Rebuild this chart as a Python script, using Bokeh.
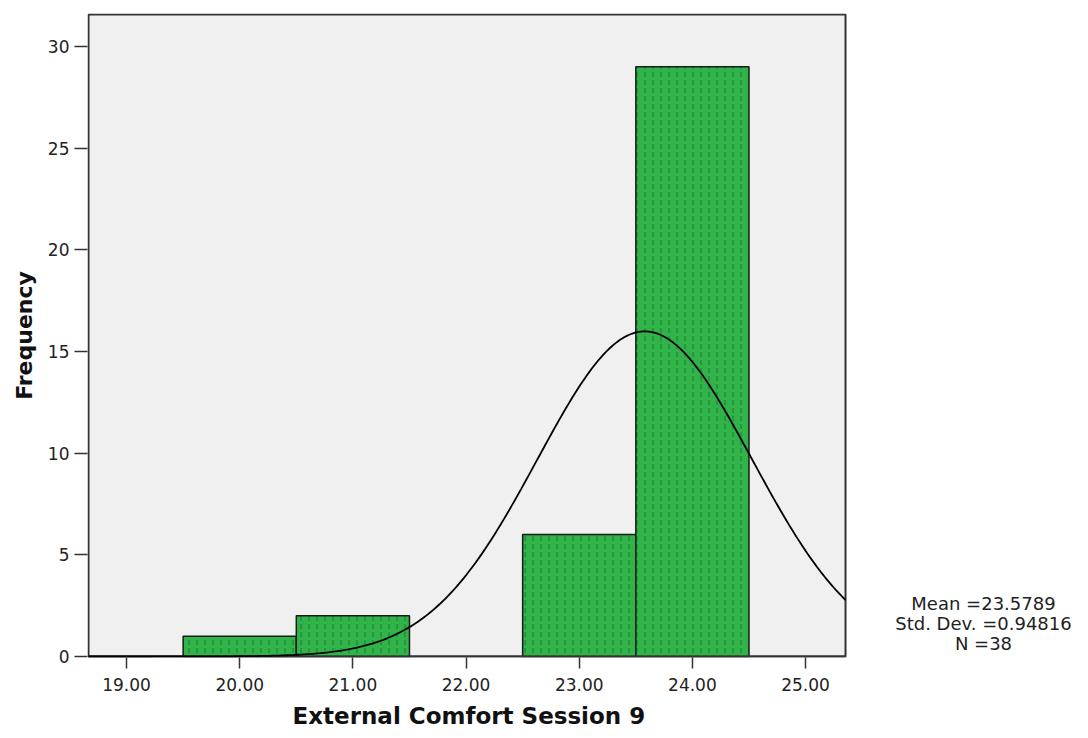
import numpy as np
from bokeh.plotting import figure
from bokeh.models import Range1d, Label, FixedTicker, CustomJSTickFormatter, BoxAnnotation, Title
from bokeh.embed import file_html
from bokeh.resources import INLINE

# Data
bin_centers = [20.0, 21.0, 22.0, 23.0, 24.0]
counts = [1, 2, 0, 6, 29]
bin_width = 1.0
mean = 23.5789
std_dev = 0.94816
n_obs = 38
x_ticks = [19, 20, 21, 22, 23, 24, 25]
y_ticks = [0, 5, 10, 15, 20, 25, 30]
stat_lines = ["Mean =23.5789", "Std. Dev. =0.94816", "N =38"]
x_title = "External Comfort Session 9"
y_title = "Frequency"

# plot window (data extent of the grey panel)
x_lo, x_hi = 18.664, 25.353
y_lo, y_hi = 0.0, 31.57

FONT = "DejaVu Sans"

p = figure(width=1088, height=738, output_backend="svg", toolbar_location=None,
           x_range=Range1d(18.655, 27.50), y_range=Range1d(-0.05, 31.62),
           min_border_left=87, min_border_right=0, min_border_top=13, min_border_bottom=81)
p.background_fill_color = "white"
p.border_fill_color = "white"
p.outline_line_color = None
p.xgrid.visible = False
p.ygrid.visible = False

# grey panel with dark outline
p.add_layout(BoxAnnotation(left=x_lo, right=x_hi, bottom=y_lo, top=y_hi,
                           fill_color="#f0f0f0", fill_alpha=1.0,
                           line_color="#333333", line_alpha=1.0, line_width=2,
                           level="underlay"))

# bars
lefts = [c - bin_width / 2 for c, k in zip(bin_centers, counts) if k > 0]
rights = [c + bin_width / 2 for c, k in zip(bin_centers, counts) if k > 0]
tops = [k for k in counts if k > 0]
p.quad(left=lefts, right=rights, bottom=0, top=tops,
       fill_color="#30b44a", line_color="#1a1a1a", line_width=1.5,
       hatch_pattern="vertical_dash", hatch_color="#1d5f24", hatch_alpha=0.75,
       hatch_scale=8, hatch_weight=1)

# x-axis baseline inside the panel
p.segment(x0=[x_lo], y0=[0], x1=[x_hi], y1=[0], line_color="#333333", line_width=2)

# normal curve from displayed statistics
xs = np.linspace(x_lo, x_hi, 400)
ys = n_obs * bin_width / (std_dev * np.sqrt(2 * np.pi)) * np.exp(-0.5 * ((xs - mean) / std_dev) ** 2)
p.line(xs, ys, line_color="black", line_width=1.8)

# axes
p.xaxis.ticker = FixedTicker(ticks=x_ticks)
p.xaxis.formatter = CustomJSTickFormatter(code="return tick.toFixed(2);")
p.yaxis.ticker = FixedTicker(ticks=y_ticks)
for ax in (p.xaxis[0], p.yaxis[0]):
    ax.axis_line_color = None
    ax.major_tick_line_color = "#333333"
    ax.major_tick_line_width = 1.5
    ax.minor_tick_line_color = None
    ax.major_tick_in = 0
    ax.major_label_text_font = FONT
    ax.major_label_text_font_size = "17px"
    ax.major_label_text_color = "#222222"
    ax.axis_label_text_font = FONT
    ax.axis_label_text_font_style = "bold"
    ax.axis_label_text_font_size = "22px"
    ax.axis_label_text_color = "#111111"

p.xaxis.major_tick_out = 11
p.xaxis.major_label_standoff = 9
p.yaxis.axis_label = y_title
p.yaxis.major_tick_out = 13
p.yaxis.major_label_standoff = 5
p.yaxis.axis_label_standoff = 8

# x title, positioned under the grey panel
p.add_layout(Title(text=x_title, align="left", offset=205, standoff=14,
                   text_font=FONT, text_font_style="bold", text_font_size="23px",
                   text_color="#111111"), "below")

# stats text
stat_x = 26.572
stat_y = [2.60, 1.62, 0.64]
for t, yy in zip(stat_lines, stat_y):
    p.add_layout(Label(x=stat_x, y=yy, text=t, text_align="center",
                       text_baseline="middle", text_font=FONT, text_font_size="18px",
                       text_color="#222222"))

open("out.html", "w").write(file_html(p, INLINE))
